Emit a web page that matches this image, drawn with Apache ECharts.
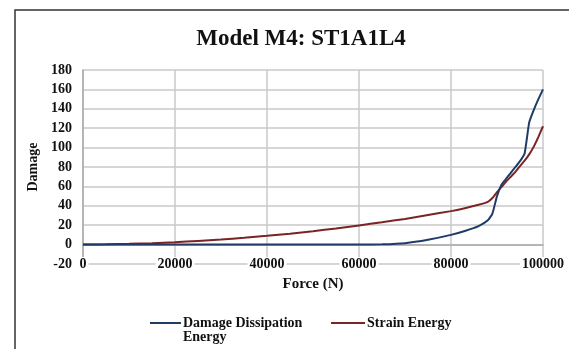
<!DOCTYPE html>
<html>
<head>
<meta charset="utf-8">
<script src="https://cdn.jsdelivr.net/npm/echarts@6/dist/echarts.min.js"></script>
<style>html,body{margin:0;padding:0;background:#fff;}#c{width:569px;height:349px;}</style>
</head>
<body>
<div id="c"></div>
<script>
var force = [0, 5000, 10000, 15000, 20000, 25000, 30000, 35000, 40000, 45000, 50000, 55000, 60000, 65000, 70000, 75000, 80000, 83000, 86000, 88000, 89000, 90000, 91000, 92000, 93000, 94000, 95000, 96000, 97000, 98000, 99000, 100000];
var dissipation = [0, 0, 0, 0, 0, 0, 0, 0, 0, 0, 0, 0, 0, 0.3, 1.5, 5, 10, 14, 19, 25, 32, 50, 62, 68, 74, 80, 86, 94, 126, 139, 150, 160];
var strain = [0, 0.3, 0.8, 1.5, 2.5, 3.8, 5.2, 7, 9, 11.2, 13.8, 16.7, 19.8, 23, 26.5, 30.5, 34.5, 37.5, 41, 44, 48, 54, 59.5, 65, 70, 75, 81, 86.5, 93, 101, 111, 122];
var yTicks = [-20, 0, 20, 40, 60, 80, 100, 120, 140, 160, 180];
var xTicks = [0, 20000, 40000, 60000, 80000, 100000];

function pairs(xs, ys) { return xs.map(function (x, i) { return [x, ys[i]]; }); }

var serif = '"Liberation Serif", "DejaVu Serif", serif';
var chart = echarts.init(document.getElementById('c'));
chart.setOption({
  animation: false,
  backgroundColor: '#fff',
  title: {
    text: 'Model M4: ST1A1L4',
    left: 296, top: 23, textAlign: 'center',
    textStyle: { fontFamily: serif, fontSize: 23, fontWeight: 'bold', color: '#111' }
  },
  graphic: [
    { type: 'rect', shape: { x: 15, y: 10, width: 600, height: 400 }, style: { fill: 'none', stroke: '#333', lineWidth: 1.5 }, silent: true },
    { type: 'text', left: 183, top: 330, style: { text: 'Energy', font: 'bold 14px ' + serif, fill: '#111' } }
  ],
  legend: [
    { data: ['Damage Dissipation Energy'], left: 145, top: 311, icon: 'rect', itemWidth: 31, itemHeight: 2, itemGap: 0,
      formatter: function () { return 'Damage Dissipation'; },
      textStyle: { fontFamily: serif, fontSize: 14, fontWeight: 'bold', color: '#111', padding: [0, 0, 0, -3] } },
    { data: ['Strain Energy'], left: 326, top: 311, icon: 'rect', itemWidth: 34, itemHeight: 2,
      textStyle: { fontFamily: serif, fontSize: 14, fontWeight: 'bold', color: '#111', padding: [0, 0, 0, -3] } }
  ],
  grid: { left: 83, right: 21, top: 70, bottom: 85, containLabel: false },
  xAxis: {
    type: 'value', min: 0, max: 100000, interval: 20000,
    name: 'Force (N)', nameLocation: 'middle', nameGap: 13,
    nameTextStyle: { fontFamily: serif, fontSize: 15, fontWeight: 'bold', color: '#111' },
    axisLine: { show: true, lineStyle: { color: '#aaa', width: 1.5 } },
    axisTick: { show: false },
    axisLabel: { margin: -7, fontFamily: serif, fontSize: 14, fontWeight: 'bold', color: '#111', backgroundColor: '#fff', padding: [0, 2],
      formatter: function (v) { return String(v); } },
    splitLine: { show: true, lineStyle: { color: '#c8c8c8', width: 1.5 } }
  },
  yAxis: {
    type: 'value', min: -20, max: 180, interval: 20,
    name: 'Damage', nameLocation: 'middle', nameGap: 33, nameRotate: 90,
    nameTextStyle: { fontFamily: serif, fontSize: 14, fontWeight: 'bold', color: '#111' },
    axisLine: { show: true, lineStyle: { color: '#aaa', width: 1.5 } },
    axisTick: { show: false },
    axisLabel: { margin: 11, fontFamily: serif, fontSize: 14, fontWeight: 'bold', color: '#111' },
    splitLine: { show: true, lineStyle: { color: '#c8c8c8', width: 1.5 } }
  },
  series: [
    { name: 'Damage Dissipation Energy', type: 'line', data: pairs(force, dissipation), showSymbol: false, smooth: 0.15, z: 3,
      lineStyle: { color: '#1f3b66', width: 2 }, itemStyle: { color: '#1f3b66' } },
    { name: 'Strain Energy', type: 'line', data: pairs(force, strain), showSymbol: false, smooth: 0.15, z: 2,
      lineStyle: { color: '#7a2424', width: 2 }, itemStyle: { color: '#7a2424' } }
  ]
});
</script>
</body>
</html>
